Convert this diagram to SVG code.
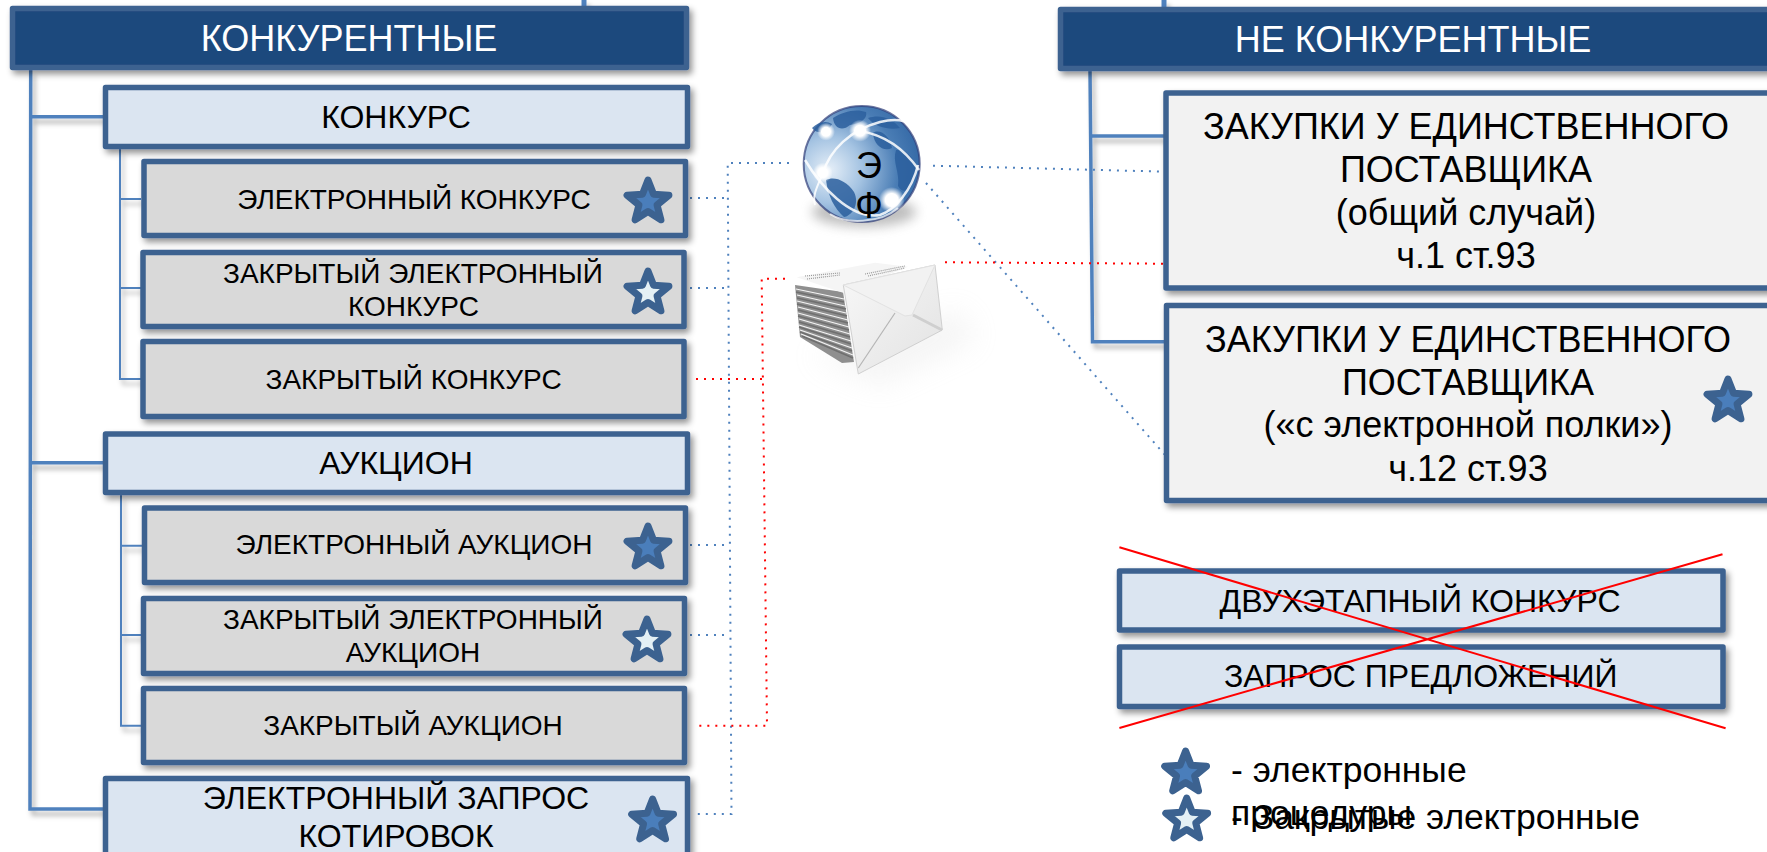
<svg xmlns="http://www.w3.org/2000/svg" width="1767" height="852" viewBox="0 0 1767 852">
<style>
text{font-family:"Liberation Sans",Arial,sans-serif;fill:#000;text-anchor:middle}
.xl{font-size:36px}.l{font-size:32px}.m{font-size:28px}.lgd{font-size:35.500px}
.w{fill:#fff}.st{text-anchor:start}
.box{stroke:#3c6290;stroke-width:5.500;stroke-linejoin:round;filter:url(#sh)}
.hd{fill:#1f497d}.lb{fill:#dbe5f1}.gr{fill:#d9d9d9}.lg{fill:#f2f2f2}
.sol{fill:none;stroke:#4f81bd;stroke-width:3.500}
.thin{fill:none;stroke:#4f81bd;stroke-width:2}
.dotb{fill:none;stroke:#4f81bd;stroke-width:2;stroke-dasharray:2 6}
.dotr{fill:none;stroke:#f00;stroke-width:2;stroke-dasharray:2 6}
.cross{stroke:#f00;stroke-width:2;fill:none}
.stripeD{stroke:#6f6f6f;stroke-width:1.600;fill:none}
.stripeL{stroke:#f4f4f4;stroke-width:1.100;fill:none}
</style>
<defs>
<filter id="sh" x="-10%" y="-20%" width="120%" height="150%"><feDropShadow dx="3" dy="4" stdDeviation="3" flood-color="#000" flood-opacity=".42"/></filter>
<filter id="shl" x="-20%" y="-20%" width="140%" height="140%"><feDropShadow dx="3" dy="5" stdDeviation="2.500" flood-color="#000" flood-opacity=".3"/></filter>
<filter id="blur" x="-30%" y="-60%" width="160%" height="220%"><feGaussianBlur stdDeviation="6"/></filter>
<filter id="blur2" x="-40%" y="-40%" width="180%" height="180%"><feGaussianBlur stdDeviation="14"/></filter>
<path id="star" d="M0-22 5.580-7.690 20.920-6.800 9.030 2.940 12.930 17.800 0 9.500-12.930 17.800-9.030 2.940-20.920-6.800-5.580-7.690Z" stroke="#3c6290" stroke-width="7" stroke-linejoin="round"/>
<radialGradient id="ocean" cx=".22" cy=".55" r=".95"><stop offset="0" stop-color="#e6eff8"/><stop offset=".3" stop-color="#a4c3e2"/><stop offset=".62" stop-color="#4a7db5"/><stop offset=".9" stop-color="#2f64a2"/><stop offset="1" stop-color="#2a4a8a"/></radialGradient>
<radialGradient id="glow"><stop offset="0" stop-color="#fff"/><stop offset=".5" stop-color="#fff"/><stop offset="1" stop-color="#fff" stop-opacity="0"/></radialGradient>
<linearGradient id="env" x1="0" y1="0" x2="1" y2="1"><stop offset="0" stop-color="#f8f8f8"/><stop offset="1" stop-color="#e2e2e2"/></linearGradient>
</defs>
<rect width="1767" height="852" fill="#fff"/>
<g id="connectors">
<g filter="url(#shl)">
<path class="sol" d="M584 0V8" style="stroke-width:5"/>
<path class="sol" d="M1164 0V8" style="stroke-width:5"/>
<path class="sol" d="M30.700 70 30 809H103M31 116.700H103M30.500 462.700H103"/>
<path class="sol" d="M1090 70 1092.500 341.700H1164M1090.500 136H1164"/>
<path class="thin" d="M120 149V379H141M120 199H141M120 288H141"/>
<path class="thin" d="M121 495V725.700H141M121 545.700H142M121 635H141"/>
</g>
<path class="dotb" d="M789 163H727.700L731.500 814H695"/>
<path class="dotb" d="M690 198H728M690 288H728M690 545H730M690 635H730"/>
<path class="dotr" d="M785 278.700H761.700L767 725.700H694M696 379H763"/>
<path class="dotb" d="M933 165.700 1166.700 171.700M926 183 1165 455"/>
<path class="dotr" d="M945 262.300 1163 263.700"/>
</g>
<g id="n-konk"><rect class="box hd" x="12.500" y="8.500" width="674" height="59"/><text class="xl w" x="349" y="50.700">КОНКУРЕНТНЫЕ</text></g>
<g id="n-nekonk"><rect class="box hd" x="1060.500" y="9.500" width="740" height="59"/><text class="xl w" x="1413" y="51.700">НЕ КОНКУРЕНТНЫЕ</text></g>
<g id="n-konkurs"><rect class="box lb" x="105.500" y="87.500" width="582" height="59"/><text class="l" x="396" y="127.700">КОНКУРС</text></g>
<g id="n-ekonkurs"><rect class="box gr" x="144" y="161.500" width="541.500" height="74"/><text class="m" x="414" y="209">ЭЛЕКТРОННЫЙ КОНКУРС</text><use href="#star" x="648" y="202" fill="#4a7ebb"/></g>
<g id="n-zekonkurs"><rect class="box gr" x="143" y="252.500" width="541" height="74"/><text class="m" x="413" y="282.700">ЗАКРЫТЫЙ ЭЛЕКТРОННЫЙ</text><text class="m" x="413.400" y="315.700">КОНКУРС</text><use href="#star" x="648" y="293" fill="#e4f0f5"/></g>
<g id="n-zkonkurs"><rect class="box gr" x="143" y="341.500" width="541" height="75"/><text class="m" x="413.600" y="389">ЗАКРЫТЫЙ КОНКУРС</text></g>
<g id="n-aukc"><rect class="box lb" x="105.500" y="434" width="582" height="58.500"/><text class="l" x="396" y="474">АУКЦИОН</text></g>
<g id="n-eaukc"><rect class="box gr" x="144.500" y="508" width="541" height="74.500"/><text class="m" x="414" y="554">ЭЛЕКТРОННЫЙ АУКЦИОН</text><use href="#star" x="648" y="548" fill="#4a7ebb"/></g>
<g id="n-zeaukc"><rect class="box gr" x="143.500" y="598.500" width="541" height="75"/><text class="m" x="413" y="628.700">ЗАКРЫТЫЙ ЭЛЕКТРОННЫЙ</text><text class="m" x="413" y="662">АУКЦИОН</text><use href="#star" x="647" y="641" fill="#e4f0f5"/></g>
<g id="n-zaukc"><rect class="box gr" x="143.500" y="688.500" width="541" height="74"/><text class="m" x="413" y="735">ЗАКРЫТЫЙ АУКЦИОН</text></g>
<g id="n-zk"><rect class="box lb" x="105.500" y="778.500" width="582" height="100"/><text class="l" x="396" y="809">ЭЛЕКТРОННЫЙ ЗАПРОС</text><text class="l" x="396" y="847">КОТИРОВОК</text><use href="#star" x="652.600" y="821" fill="#4a7ebb"/></g>
<g id="n-ep1"><rect class="box lg" x="1166" y="93" width="640" height="195"/><text class="xl" x="1466" y="139">ЗАКУПКИ У ЕДИНСТВЕННОГО</text><text class="xl" x="1466" y="182">ПОСТАВЩИКА</text><text class="xl" x="1466" y="224.500">(общий случай)</text><text class="xl" x="1466" y="268">ч.1 ст.93</text></g>
<g id="n-ep2"><rect class="box lg" x="1166.500" y="305.500" width="640" height="195"/><text class="xl" x="1468" y="351.500">ЗАКУПКИ У ЕДИНСТВЕННОГО</text><text class="xl" x="1468" y="394.500">ПОСТАВЩИКА</text><text class="xl" x="1468" y="437">(«с электронной полки»)</text><text class="xl" x="1468" y="480.500">ч.12 ст.93</text><use href="#star" x="1728" y="401" fill="#4a7ebb"/></g>
<g id="n-dvuh"><rect class="box lb" x="1119.500" y="571" width="603.500" height="59"/><text class="l" x="1420" y="612">ДВУХЭТАПНЫЙ КОНКУРС</text></g>
<g id="n-zapros"><rect class="box lb" x="1119.500" y="647" width="603.500" height="59.500"/><text class="l" x="1420.700" y="687">ЗАПРОС ПРЕДЛОЖЕНИЙ</text></g>
<g id="cross"><path class="cross" d="M1119.400 547.300 1725.600 728.300M1119.400 728 1722.500 554.300"/></g>
<g id="globe">
<ellipse cx="864" cy="212" rx="52" ry="15" fill="#888" filter="url(#blur)" opacity=".55"/>
<circle cx="861.700" cy="164" r="58" fill="url(#ocean)" stroke="#2e3c78" stroke-width="2" stroke-opacity=".7"/>
<path d="M833 118C842 112 856 108 866 112 868 120 858 124 850 125 842 132 834 128 833 118ZM873 133C880 128 890 136 892 148 884 152 874 146 873 133ZM826 180C834 176 846 180 854 192 860 204 852 216 844 217 834 208 828 196 826 180ZM812 128C818 122 826 120 832 124 828 132 818 136 812 128ZM896 150C908 150 916 160 917 172 912 190 904 196 898 186 900 172 892 162 896 150ZM868 118C880 114 892 118 900 128 890 130 876 128 868 118Z" fill="#2c5f9e" opacity=".85"/>
<g fill="none" stroke="#fff" stroke-opacity=".85">
<path d="M805 160C820 185 850 220 880 215 895 210 912 190 918 165" stroke-width="2.500"/>
<path d="M823 173C830 150 850 130 880 122 895 118 905 120 912 125" stroke-width="2.500"/>
<path d="M860 131C885 135 905 150 919 170" stroke-width="2.500"/>
<path d="M823 173C818 185 812 195 815 205" stroke-width="2"/>
</g>
<path d="M830 214C845 224 880 224 898 208" fill="none" stroke="#fff" stroke-width="2" stroke-opacity=".7"/>
<circle cx="826" cy="131.700" r="9" fill="url(#glow)"/><circle cx="860" cy="130.700" r="11" fill="url(#glow)"/><circle cx="822.700" cy="172.700" r="10" fill="url(#glow)"/><circle cx="891.700" cy="200" r="13" fill="url(#glow)"/>
<text class="xl" x="869" y="177.700">Э</text><text class="xl" x="869" y="218">Ф</text>
</g>
<g id="mail">
<path d="M810 355 880 385 975 340 960 310 880 340Z" fill="#ccc" opacity=".2" filter="url(#blur2)"/>
<path d="M795 285 843 292 854 362 842 363 800 337Z" fill="#8f8f8f"/>
<g class="stripeD"><path d="M796 292 844 302M797 298 846 309M797 304 847 316M798 310 848 323M798 316 849 330M799 322 850 337M799 327 851 344M800 332 852 351M802 336 853 358"/></g>
<g class="stripeL"><path d="M796 289 844 299M797 295 845 306M797 301 846 313M798 307 848 320M798 313 849 327M799 319 850 334M799 325 851 341M800 330 852 348M801 334 853 355"/></g>
<path d="M796.700 277.300 875 262.700 908 266.700 843 292.700Z" fill="#f5f5f5"/>
<path d="M805 276 840 273M807 279 840 275M865 274 905 266M868 276 905 268" stroke="#999" stroke-width="1.200" stroke-dasharray="1 1" fill="none"/>
<path d="M843.300 285 935 265 942.300 330 858.300 374Z" fill="url(#env)" stroke="#d0d0d0"/>
<path d="M843.300 285 935 265 912 315 905 316Z" fill="#f2f2f2" stroke="#e2e2e2"/>
<path d="M895 313 858.300 368" stroke="#b5b5b5" stroke-width="1.200" fill="none"/>
<path d="M913 315 942 330" stroke="#cfcfcf" stroke-width="3" fill="none"/>
</g>
<g id="legend">
<use href="#star" x="1185.600" y="773" fill="#4a7ebb"/>
<use href="#star" x="1186.700" y="820" fill="#e4f0f5"/>
<text class="lgd st" x="1231" y="782">- электронные</text>
<text class="lgd st" x="1231" y="825">процедуры</text>
<text class="lgd st" x="1231" y="829">- Закрытые электронные</text>
</g>
</svg>
